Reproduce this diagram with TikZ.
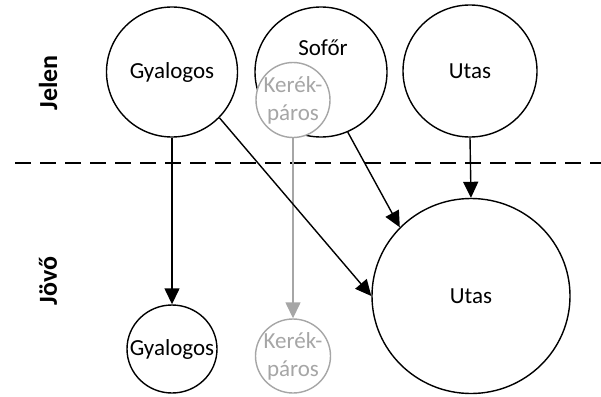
\documentclass[tikz,border=0pt]{standalone}
\usepackage{fontspec}
\setmainfont{Carlito}
\usepackage{xcolor}
\usetikzlibrary{arrows.meta,shapes.geometric}
\definecolor{bikegray}{HTML}{A6A6A6}

\begin{document}
\begin{tikzpicture}[
  x=1pt,y=-1pt,
  who/.style={draw,ellipse,line width=1.4pt,inner sep=0pt,fill=white},
  bike/.style={who,draw=bikegray},
  lbl/.style={font=\fontsize{23}{28}\selectfont,align=center,inner sep=0pt},
  era/.style={font=\fontsize{26}{30}\selectfont\bfseries,rotate=90,inner sep=0pt},
  cut/.style={line width=1.4pt,dash pattern=on 16pt off 9pt},
  arr/.style={line width=1.4pt,-{Triangle[length=16pt,width=15pt]}},
  garr/.style={arr,bikegray}
]
\useasboundingbox (0,0) rectangle (601,396);

% time split
\coordinate (cutL) at (15,163);
\coordinate (cutR) at (601,163);
\draw[cut] (cutL) -- (cutR);
\node[era] (jelen) at (48,83) {Jelen};
\node[era] (jovo) at (48,281) {Jövő};

% present
\node[who,minimum width=131pt,minimum height=130pt] (gyj) at (172,72) {};
\node[lbl] (gyj-t) at (gyj) {Gyalogos};
\node[who,minimum width=132pt,minimum height=130pt] (sof) at (321,72) {};
\node[lbl] (sof-t) at (323,48) {Sofőr};
\node[bike,minimum width=74pt,minimum height=75pt] (kej) at (293,100) {};
\node[lbl,bikegray] (kej-t) at (kej) {Kerék-\\páros};
\node[who,minimum width=134pt,minimum height=132pt] (utj) at (470,71) {};
\node[lbl] (utj-t) at (utj) {Utas};

% future
\node[who,minimum width=90pt,minimum height=88pt] (gyf) at (172,349) {};
\node[lbl] (gyf-t) at (gyf) {Gyalogos};
\node[bike,minimum width=75pt,minimum height=74pt] (kef) at (293,356) {};
\node[lbl,bikegray] (kef-t) at (kef) {Kerék-\\páros};
\node[who,minimum width=198pt,minimum height=195pt] (utf) at (471,296) {};
\node[lbl] (utf-t) at (utf) {Utas};

\draw[garr] (kej.south) -- (kef.north);
\draw[arr] (gyj.south) -- (gyf.north);
\draw[arr] (gyj.-44) -- (utf.west);
\draw[arr] (sof.-66) -- (utf.136);
\draw[arr] (utj.south) -- (utf.north);
\end{tikzpicture}
\end{document}
